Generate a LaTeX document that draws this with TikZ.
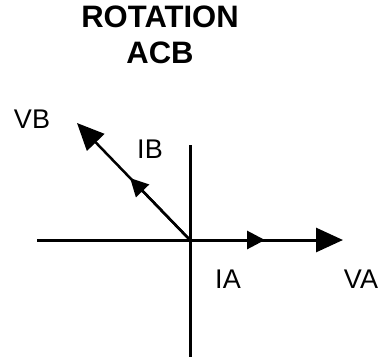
\documentclass[tikz,border=0pt]{standalone}
\usepackage{fontspec}
\setmainfont{Liberation Sans}
\usetikzlibrary{arrows.meta,calc}
\begin{document}
\begin{tikzpicture}[x=1pt,y=-1pt,
  axis/.style={line width=3pt},
  vec/.style={line width=3pt,-{Triangle[length=27pt,width=24pt]}},
  cur/.style={line width=3pt,-{Triangle[length=18pt,width=18pt]}},
  lbl/.style={inner sep=0pt,anchor=base,font=\fontsize{27}{27}\selectfont},
  ttl/.style={inner sep=0pt,anchor=base,font=\fontsize{31}{31}\selectfont\bfseries}]
\useasboundingbox (0,0) rectangle (385,360);
\node[ttl] (t1) at (160,27) {ROTATION};
\node[ttl] (t2) at (160,63) {ACB};
\coordinate (O) at (190,240);
\coordinate (L) at (37,240);
\coordinate (T) at (190,145);
\coordinate (B) at (190,357);
\coordinate (VAt) at (343,240);
\coordinate (IAt) at (265,240);
\coordinate (VBt) at (77,123);
\coordinate (IBt) at ($(O)!0.53!(VBt)$);
\draw[axis] (L) -- (O);
\draw[axis] (T) -- (B);
\draw[cur] (O) -- (IAt);
\draw[vec] (O) -- (VAt);
\draw[cur,line width=2.5pt] (O) -- (IBt);
\draw[vec,line width=2.5pt] (O) -- (VBt);
\node[lbl] (vb) at (32,128) {VB};
\node[lbl] (ib) at (150,158) {IB};
\node[lbl] (ia) at (228,288) {IA};
\node[lbl] (va) at (361,288) {VA};
\end{tikzpicture}
\end{document}
